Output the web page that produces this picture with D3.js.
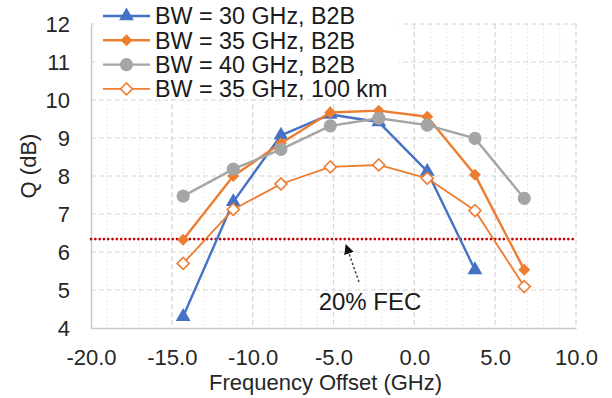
<!DOCTYPE html>
<html>
<head>
<meta charset="utf-8">
<script src="https://cdn.jsdelivr.net/npm/d3@7"></script>
<style>
  html, body { margin: 0; padding: 0; background: #fff; }
  svg { display: block; font-family: "Liberation Sans", Arial, sans-serif; }
</style>
</head>
<body>
<svg id="chart" width="612" height="398"></svg>
<script>
// Frequency offsets (GHz) at which Q was measured
const offsets = [-14.3, -11.2, -8.25, -5.2, -2.2, 0.8, 3.75, 6.8];

// Q factor (dB) per configuration
const q30b2b   = [4.3, 7.32, 9.07, 9.62, 9.42, 8.12, 5.53];
const q35b2b   = [6.32, 8.0, 8.86, 9.67, 9.72, 9.56, 8.03, 5.53];
const q40b2b   = [7.47, 8.18, 8.7, 9.32, 9.52, 9.34, 8.99, 7.41];
const q35km100 = [5.70, 7.12, 7.79, 8.24, 8.29, 7.94, 7.09, 5.09];

const seriesNames = ["BW = 30 GHz, B2B", "BW = 35 GHz, B2B", "BW = 40 GHz, B2B", "BW = 35 GHz, 100 km"];
const xTicks = [-20, -15, -10, -5, 0, 5, 10];
const yTicks = [4, 5, 6, 7, 8, 9, 10, 11, 12];
const fecLimit = 6.34;
const fecLabel = "20% FEC";

const svg = d3.select("#chart");
const plotL = 91, plotR = 576, plotT = 24, plotB = 328;

const x = d3.scaleLinear().domain([-20, 10]).range([plotL, plotR]);
const y = d3.scaleLinear().domain([4, 12]).range([plotB, plotT]);

// minor vertical gridlines every 1 GHz
const g = svg.append("g");
g.selectAll("line.minor")
  .data(d3.range(-19, 10).filter(v => v % 5 !== 0))
  .join("line")
  .attr("x1", d => x(d)).attr("x2", d => x(d))
  .attr("y1", plotT).attr("y2", plotB)
  .attr("stroke", "#e8e8e8").attr("stroke-width", 1)
  .attr("stroke-dasharray", "2 2");

// major gridlines (dashed)
g.selectAll("line.vmajor")
  .data(xTicks.slice(1))
  .join("line")
  .attr("x1", d => x(d)).attr("x2", d => x(d))
  .attr("y1", plotT).attr("y2", plotB)
  .attr("stroke", "#d6d6d6").attr("stroke-width", 1.2)
  .attr("stroke-dasharray", "5 3");
g.selectAll("line.hmajor")
  .data(yTicks.slice(1))
  .join("line")
  .attr("x1", plotL).attr("x2", plotR)
  .attr("y1", d => y(d)).attr("y2", d => y(d))
  .attr("stroke", "#d6d6d6").attr("stroke-width", 1.2)
  .attr("stroke-dasharray", "5 3");

// axes (plain hyphen for negative labels)
const xAxis = d3.axisBottom(x).tickValues(xTicks).tickFormat(d => d.toFixed(1)).tickSize(0).tickPadding(0);
const yAxis = d3.axisLeft(y).tickValues(yTicks).tickFormat(d => String(d)).tickSize(0).tickPadding(0);

const xg = svg.append("g").attr("transform", `translate(0,${plotB})`).call(xAxis);
xg.select(".domain").attr("stroke", "#c8c8c8").attr("stroke-width", 1.5);
xg.selectAll("text").attr("font-size", 22).attr("fill", "#262626")
  .attr("font-family", "Liberation Sans, Arial, sans-serif")
  .attr("dy", null).attr("y", 37);

const yg = svg.append("g").attr("transform", `translate(${plotL},0)`).call(yAxis);
yg.select(".domain").attr("stroke", "#c8c8c8").attr("stroke-width", 1.5);
yg.selectAll("text").attr("font-size", 22).attr("fill", "#262626")
  .attr("font-family", "Liberation Sans, Arial, sans-serif")
  .attr("x", -21).attr("dy", "0.36em");

// axis titles
svg.append("text")
  .attr("x", (plotL + plotR) / 2 - 8).attr("y", 390)
  .attr("text-anchor", "middle").attr("font-size", 22).attr("fill", "#262626")
  .text("Frequency Offset (GHz)");
svg.append("text")
  .attr("transform", "translate(36,166) rotate(-90)")
  .attr("text-anchor", "middle").attr("font-size", 22).attr("fill", "#262626")
  .text("Q (dB)");

// FEC threshold
svg.append("line")
  .attr("x1", plotL).attr("x2", plotR)
  .attr("y1", y(fecLimit)).attr("y2", y(fecLimit))
  .attr("stroke", "#c00000").attr("stroke-width", 2.6)
  .attr("stroke-linecap", "round").attr("stroke-dasharray", "0.1 4.2");

// annotation arrow
svg.append("defs").append("marker")
  .attr("id", "head").attr("viewBox", "0 0 10 10")
  .attr("refX", 9).attr("refY", 5)
  .attr("markerWidth", 10).attr("markerHeight", 10)
  .attr("markerUnits", "userSpaceOnUse")
  .attr("orient", "auto")
  .append("path").attr("d", "M0,0 L10,5 L0,10 Z").attr("fill", "#111");
svg.append("line")
  .attr("x1", 359).attr("y1", 282).attr("x2", 346).attr("y2", 245)
  .attr("stroke", "#444").attr("stroke-width", 1.5)
  .attr("stroke-dasharray", "2.5 2")
  .attr("marker-end", "url(#head)");
svg.append("text")
  .attr("x", 370).attr("y", 310)
  .attr("text-anchor", "middle").attr("font-size", 24).attr("fill", "#1a1a1a")
  .text(fecLabel);

// series
const blue = "#4472c4", orange = "#ed7d31", gray = "#a5a5a5";
const series = [
  { name: seriesNames[0], values: q30b2b, color: blue, width: 2.4, marker: "triangle", fill: blue },
  { name: seriesNames[1], values: q35b2b, color: orange, width: 2.4, marker: "diamond", fill: orange },
  { name: seriesNames[2], values: q40b2b, color: gray, width: 2.4, marker: "circle", fill: gray },
  { name: seriesNames[3], values: q35km100, color: orange, width: 1.8, marker: "diamond", fill: "#fff" }
];

const symbolFor = m => m === "triangle" ? d3.symbol(d3.symbolTriangle, 95)
  : m === "diamond" ? d3.symbol(d3.symbolSquare, 72)
  : d3.symbol(d3.symbolCircle, 135);

const line = d3.line().x(d => x(d[0])).y(d => y(d[1]));

function drawMarker(sel, s) {
  const p = sel.append("path").attr("d", symbolFor(s.marker)())
    .attr("fill", s.fill);
  if (s.fill === "#fff") p.attr("stroke", s.color).attr("stroke-width", 1.6);
  return p;
}

series.forEach(s => {
  const pts = s.values.map((v, i) => [offsets[i], v]);
  svg.append("path").attr("d", line(pts))
    .attr("fill", "none").attr("stroke", s.color).attr("stroke-width", s.width)
    .attr("stroke-linejoin", "round");
  pts.forEach(p => {
    const gm = svg.append("g")
      .attr("transform", `translate(${x(p[0])},${y(p[1])})` + (s.marker === "diamond" ? " rotate(45)" : ""));
    drawMarker(gm, s);
  });
});

// legend
const lg = svg.append("g");
lg.append("rect").attr("x", 95).attr("y", 2).attr("width", 304).attr("height", 97).attr("fill", "#fff");
series.forEach((s, i) => {
  const cy = 16 + i * 24.3;
  lg.append("line").attr("x1", 103).attr("x2", 150).attr("y1", cy).attr("y2", cy)
    .attr("stroke", s.color).attr("stroke-width", s.width);
  const gm = lg.append("g")
    .attr("transform", `translate(126.5,${cy})` + (s.marker === "diamond" ? " rotate(45)" : ""));
  drawMarker(gm, s);
  lg.append("text").attr("x", 155).attr("y", cy).attr("dy", "0.36em")
    .attr("font-size", 23.3).attr("fill", "#1a1a1a").text(s.name);
});
</script>
</body>
</html>
